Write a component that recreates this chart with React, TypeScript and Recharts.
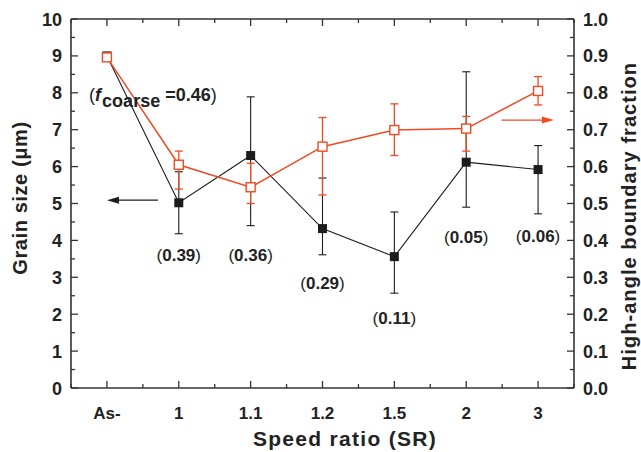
import React from "react";
import {
  ComposedChart,
  ErrorBar,
  Line,
  ReferenceDot,
  ReferenceLine,
  XAxis,
  YAxis
} from "recharts";

const categories = ["As-", "1", "1.1", "1.2", "1.5", "2", "3"];
const grainSize = [9.0, 5.02, 6.3, 4.32, 3.56, 6.12, 5.92];
const grainLow = [9.0, 4.18, 4.4, 3.61, 2.57, 4.9, 4.72];
const grainHigh = [9.0, 5.86, 7.89, 5.69, 4.77, 8.57, 6.57];
const hagbFraction = [0.896, 0.605, 0.544, 0.654, 0.699, 0.703, 0.805];
const hagbLow = [0.896, 0.539, 0.5, 0.523, 0.63, 0.642, 0.767];
const hagbHigh = [0.896, 0.642, 0.609, 0.733, 0.77, 0.736, 0.844];
// coarse-grain fraction notes under each SR point (index into categories, y in µm)
const coarseIdx = [1, 2, 3, 4, 5, 6];
const coarseText = ["0.39", "0.36", "0.29", "0.11", "0.05", "0.06"];
const coarseY = [3.6, 3.6, 2.85, 1.9, 4.09, 4.12];
const asRolledCoarse = "0.46";

const RED = "#ef4a24";
const INK = "#1c1c1c";
const AXIS = "#333";
const FONT = "'Liberation Sans', Arial, sans-serif";

const data = categories.map((c, i) => ({
  x: i,
  name: c,
  grain: grainSize[i],
  grainErr: [grainSize[i] - grainLow[i], grainHigh[i] - grainSize[i]],
  hagb: hagbFraction[i],
  hagbErr: [hagbFraction[i] - hagbLow[i], hagbHigh[i] - hagbFraction[i]]
}));

const xTicks = Array.from({ length: 15 }, (_, i) => -0.5 + i * 0.5);
const leftTicks = Array.from({ length: 21 }, (_, i) => i * 0.5);
const rightTicks = Array.from({ length: 21 }, (_, i) => i / 20);

function BottomTick({ x, y, payload }: any) {
  const major = Number.isInteger(payload.value);
  return (
    <g>
      <line x1={x} x2={x} y1={y} y2={y - (major ? 7 : 4)} stroke={AXIS} strokeWidth={1.3} />
      {major && (
        <text x={x} y={y + 31} textAnchor="middle" fontSize={17} fontWeight="bold" fill="#222" fontFamily={FONT}>
          {categories[payload.value]}
        </text>
      )}
    </g>
  );
}

function TopTick({ x, y, payload }: any) {
  const major = Number.isInteger(payload.value);
  return <line x1={x} x2={x} y1={y} y2={y + (major ? 7 : 4)} stroke={AXIS} strokeWidth={1.3} />;
}

function LeftTick({ x, y, payload }: any) {
  const major = Number.isInteger(payload.value);
  return (
    <g>
      <line x1={x} x2={x + (major ? 7 : 4)} y1={y} y2={y} stroke={AXIS} strokeWidth={1.3} />
      {major && (
        <text x={x - 9} y={y + 6.5} textAnchor="end" fontSize={18} fontWeight="bold" fill="#222" fontFamily={FONT}>
          {payload.value}
        </text>
      )}
    </g>
  );
}

function RightTick({ x, y, payload }: any) {
  const major = Math.round(payload.value * 20) % 2 === 0;
  return (
    <g>
      <line x1={x} x2={x - (major ? 7 : 4)} y1={y} y2={y} stroke={AXIS} strokeWidth={1.3} />
      {major && (
        <text x={x + 9} y={y + 6.5} textAnchor="start" fontSize={18} fontWeight="bold" fill="#222" fontFamily={FONT}>
          {payload.value.toFixed(1)}
        </text>
      )}
    </g>
  );
}

function BlackSquare({ cx, cy, index }: any) {
  if (cx == null || cy == null) return <g key={index} />;
  return <rect key={index} x={cx - 4.5} y={cy - 4.5} width={9} height={9} fill={INK} />;
}

function OpenSquare({ cx, cy, index }: any) {
  if (cx == null || cy == null) return <g key={index} />;
  return (
    <rect key={index} x={cx - 4.5} y={cy - 4.5} width={9} height={9} fill="#fff" stroke={RED} strokeWidth={1.4} />
  );
}

function arrow(color: string) {
  return ({ x1, y1, x2, y2 }: any) => {
    const dir = Math.sign(x2 - x1) || 1;
    return (
      <g>
        <line x1={x1} y1={y1} x2={x2 - dir * 8} y2={y2} stroke={color} strokeWidth={1.3} />
        <polygon
          points={`${x2},${y2} ${x2 - dir * 12},${y2 - 3.5} ${x2 - dir * 12},${y2 + 3.5}`}
          fill={color}
        />
      </g>
    );
  };
}

function noteShape(text: string) {
  return ({ cx, cy }: any) => (
    <text x={cx} y={cy + 6} textAnchor="middle" fontSize={17} fill="#222" fontFamily={FONT}>
      <tspan>(</tspan>
      <tspan fontWeight="bold">{text}</tspan>
      <tspan>)</tspan>
    </text>
  );
}

function coarseShape({ cx, cy }: any) {
  return (
    <text x={cx} y={cy + 6} textAnchor="middle" fontSize={18} fill="#222" fontFamily={FONT}>
      <tspan>(</tspan>
      <tspan fontWeight="bold" fontStyle="italic">f</tspan>
      <tspan fontWeight="bold" dy={6} dx={1}>coarse</tspan>
      <tspan fontWeight="bold" dy={-6} dx={5}>=0.46</tspan>
      <tspan>)</tspan>
    </text>
  );
}

function leftTitle({ viewBox }: any) {
  const cx = 20;
  const cy = 198;
  return (
    <text x={cx} y={cy} transform={`rotate(-90 ${cx} ${cy})`} textAnchor="middle" dominantBaseline="central"
      fontSize={20} fontWeight="bold" fill="#222" fontFamily={FONT} letterSpacing={0.6}>
      Grain size (μm)
    </text>
  );
}

function rightTitle({ viewBox }: any) {
  const cx = 629;
  const cy = 216;
  return (
    <text x={cx} y={cy} transform={`rotate(-90 ${cx} ${cy})`} textAnchor="middle" dominantBaseline="central"
      fontSize={20} fontWeight="bold" fill="#222" fontFamily={FONT} letterSpacing={1.05}>
      High-angle boundary fraction
    </text>
  );
}

function bottomTitle({ viewBox }: any) {
  return (
    <text x={345} y={446} textAnchor="middle"
      fontSize={21} fontWeight="bold" fill="#222" fontFamily={FONT} letterSpacing={1.3}>
      Speed ratio (SR)
    </text>
  );
}

export default function App() {
  return (
    <div style={{ position: "absolute", left: 0, top: 0, width: 641, height: 452, background: "#fff" }}>
      <ComposedChart width={641} height={452} data={data} margin={{ top: 9, right: 10, bottom: 14, left: 10 }}>
        <XAxis
          dataKey="x"
          type="number"
          domain={[-0.5, 6.5]}
          ticks={xTicks}
          interval={0}
          height={50}
          tickSize={0}
          tickMargin={0}
          tick={<BottomTick />}
          axisLine={{ stroke: AXIS, strokeWidth: 1.6 }}
          tickLine={false}
          label={{ content: bottomTitle }}
        />
        <XAxis
          xAxisId="top"
          orientation="top"
          dataKey="x"
          type="number"
          domain={[-0.5, 6.5]}
          ticks={xTicks}
          interval={0}
          height={10}
          tickSize={0}
          tickMargin={0}
          tick={<TopTick />}
          axisLine={{ stroke: AXIS, strokeWidth: 1.6 }}
          tickLine={false}
        />
        <YAxis
          yAxisId="left"
          domain={[0, 10]}
          ticks={leftTicks}
          interval={0}
          width={61}
          tickSize={0}
          tickMargin={0}
          tick={<LeftTick />}
          axisLine={{ stroke: AXIS, strokeWidth: 1.6 }}
          tickLine={false}
          label={{ content: leftTitle }}
        />
        <YAxis
          yAxisId="right"
          orientation="right"
          domain={[0, 1]}
          ticks={rightTicks}
          interval={0}
          width={57}
          tickSize={0}
          tickMargin={0}
          tick={<RightTick />}
          axisLine={{ stroke: AXIS, strokeWidth: 1.6 }}
          tickLine={false}
          label={{ content: rightTitle }}
        />
        <Line
          yAxisId="left"
          dataKey="grain"
          stroke={INK}
          strokeWidth={1.1}
          dot={BlackSquare}
          activeDot={false}
          isAnimationActive={false}
        >
          <ErrorBar dataKey="grainErr" width={4} stroke={INK} strokeWidth={1.1} direction="y" />
        </Line>
        <Line
          yAxisId="right"
          dataKey="hagb"
          stroke={RED}
          strokeWidth={1.5}
          dot={OpenSquare}
          activeDot={false}
          isAnimationActive={false}
        >
          <ErrorBar dataKey="hagbErr" width={4} stroke={RED} strokeWidth={1.3} direction="y" />
        </Line>
        <ReferenceLine
          yAxisId="left"
          segment={[{ x: 0.71, y: 5.09 }, { x: 0, y: 5.09 }]}
          shape={arrow(INK)}
        />
        <ReferenceLine
          yAxisId="right"
          segment={[{ x: 5.49, y: 0.726 }, { x: 6.22, y: 0.726 }]}
          shape={arrow(RED)}
        />
        <ReferenceDot yAxisId="left" x={0.64} y={7.95} r={0} shape={coarseShape} />
        {coarseIdx.map((xi, k) => (
          <ReferenceDot key={k} yAxisId="left" x={xi} y={coarseY[k]} r={0} shape={noteShape(coarseText[k])} />
        ))}
      </ComposedChart>
    </div>
  );
}
